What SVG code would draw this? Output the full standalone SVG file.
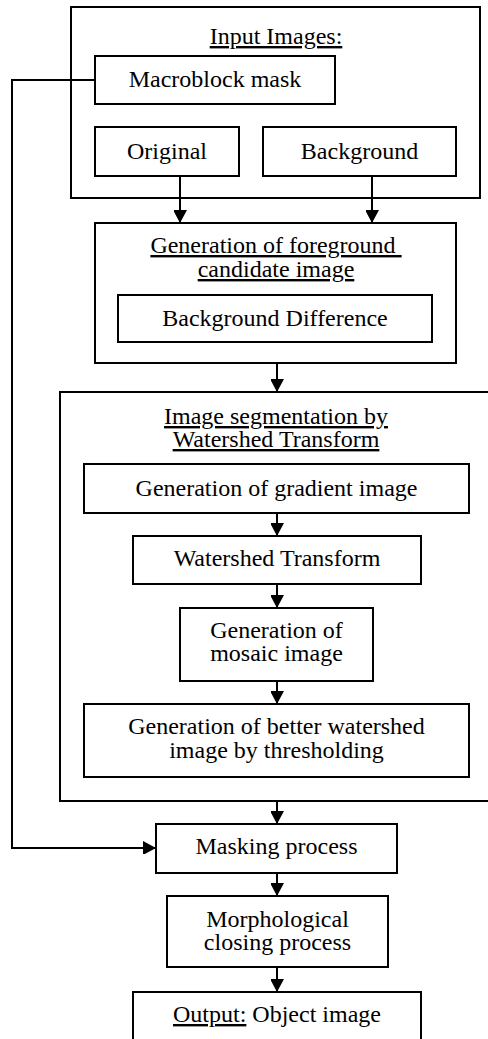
<svg xmlns="http://www.w3.org/2000/svg" width="488" height="1039" viewBox="0 0 488 1039">
<style>
.b{fill:none;stroke:#000;stroke-width:2}
.t{font-family:"Liberation Serif","Times New Roman",serif;font-size:24px;fill:#000;text-anchor:middle}
.u{text-decoration:underline}
.c{fill:none;stroke:#000;stroke-width:2}
</style>
<defs>
<marker id="ah" markerUnits="userSpaceOnUse" markerWidth="14" markerHeight="13" refX="13" refY="7" orient="auto">
<path d="M0,0 L13,7 L0,14 Z" fill="#000"/>
</marker>
</defs>
<rect width="488" height="1039" fill="#fff"/>
<g id="input">
<rect class="b" x="71" y="7" width="409" height="191"/>
<text class="t u" x="276" y="44">Input Images:</text>
</g>
<g id="macroblock">
<rect class="b" x="95" y="56" width="240" height="48"/>
<text class="t" x="215" y="87">Macroblock mask</text>
</g>
<g id="original">
<rect class="b" x="95" y="127" width="144" height="49"/>
<text class="t" x="167" y="159">Original</text>
</g>
<g id="background">
<rect class="b" x="263" y="127" width="193" height="49"/>
<text class="t" x="359.5" y="159">Background</text>
</g>
<g id="foreground">
<rect class="b" x="95" y="223" width="361" height="140"/>
<text class="t u" xml:space="preserve"><tspan x="276" y="253">Generation of foreground </tspan><tspan x="276" y="277">candidate image</tspan></text>
</g>
<g id="bgdiff">
<rect class="b" x="118" y="295" width="314" height="47"/>
<text class="t" x="275" y="326">Background Difference</text>
</g>
<g id="segmentation">
<rect class="b" x="60" y="392" width="440" height="409"/>
<text class="t u"><tspan x="276" y="424">Image segmentation by</tspan><tspan x="276" y="447">Watershed Transform</tspan></text>
</g>
<g id="gradient">
<rect class="b" x="84" y="464" width="385" height="49"/>
<text class="t" x="276.5" y="496">Generation of gradient image</text>
</g>
<g id="watershed">
<rect class="b" x="133" y="536" width="288" height="48"/>
<text class="t" x="277" y="566">Watershed Transform</text>
</g>
<g id="mosaic">
<rect class="b" x="180" y="608" width="193" height="73"/>
<text class="t"><tspan x="276.5" y="638">Generation of</tspan><tspan x="276.5" y="661">mosaic image</tspan></text>
</g>
<g id="better">
<rect class="b" x="84" y="704" width="385" height="73"/>
<text class="t"><tspan x="276.5" y="734">Generation of better watershed</tspan><tspan x="276.5" y="758">image by thresholding</tspan></text>
</g>
<g id="masking">
<rect class="b" x="156" y="824" width="241" height="49"/>
<text class="t" x="276.5" y="854">Masking process</text>
</g>
<g id="morph">
<rect class="b" x="167" y="896" width="221" height="71"/>
<text class="t"><tspan x="277.5" y="927">Morphological</tspan><tspan x="277.5" y="950">closing process</tspan></text>
</g>
<g id="output">
<rect class="b" x="133" y="992" width="288" height="60"/>
<text class="t" x="277" y="1022"><tspan class="u">Output:</tspan> Object image</text>
</g>
<g id="connectors">
<path class="c" d="M180,176 V223" marker-end="url(#ah)"/>
<path class="c" d="M372,176 V223" marker-end="url(#ah)"/>
<path class="c" d="M277,363 V392" marker-end="url(#ah)"/>
<path class="c" d="M277,513 V536" marker-end="url(#ah)"/>
<path class="c" d="M277,584 V608" marker-end="url(#ah)"/>
<path class="c" d="M277,681 V704" marker-end="url(#ah)"/>
<path class="c" d="M277,801 V824" marker-end="url(#ah)"/>
<path class="c" d="M277,873 V896" marker-end="url(#ah)"/>
<path class="c" d="M277,967 V992" marker-end="url(#ah)"/>
<path class="c" d="M95,80 H12 V848 H156" marker-end="url(#ah)"/>
</g>
</svg>
